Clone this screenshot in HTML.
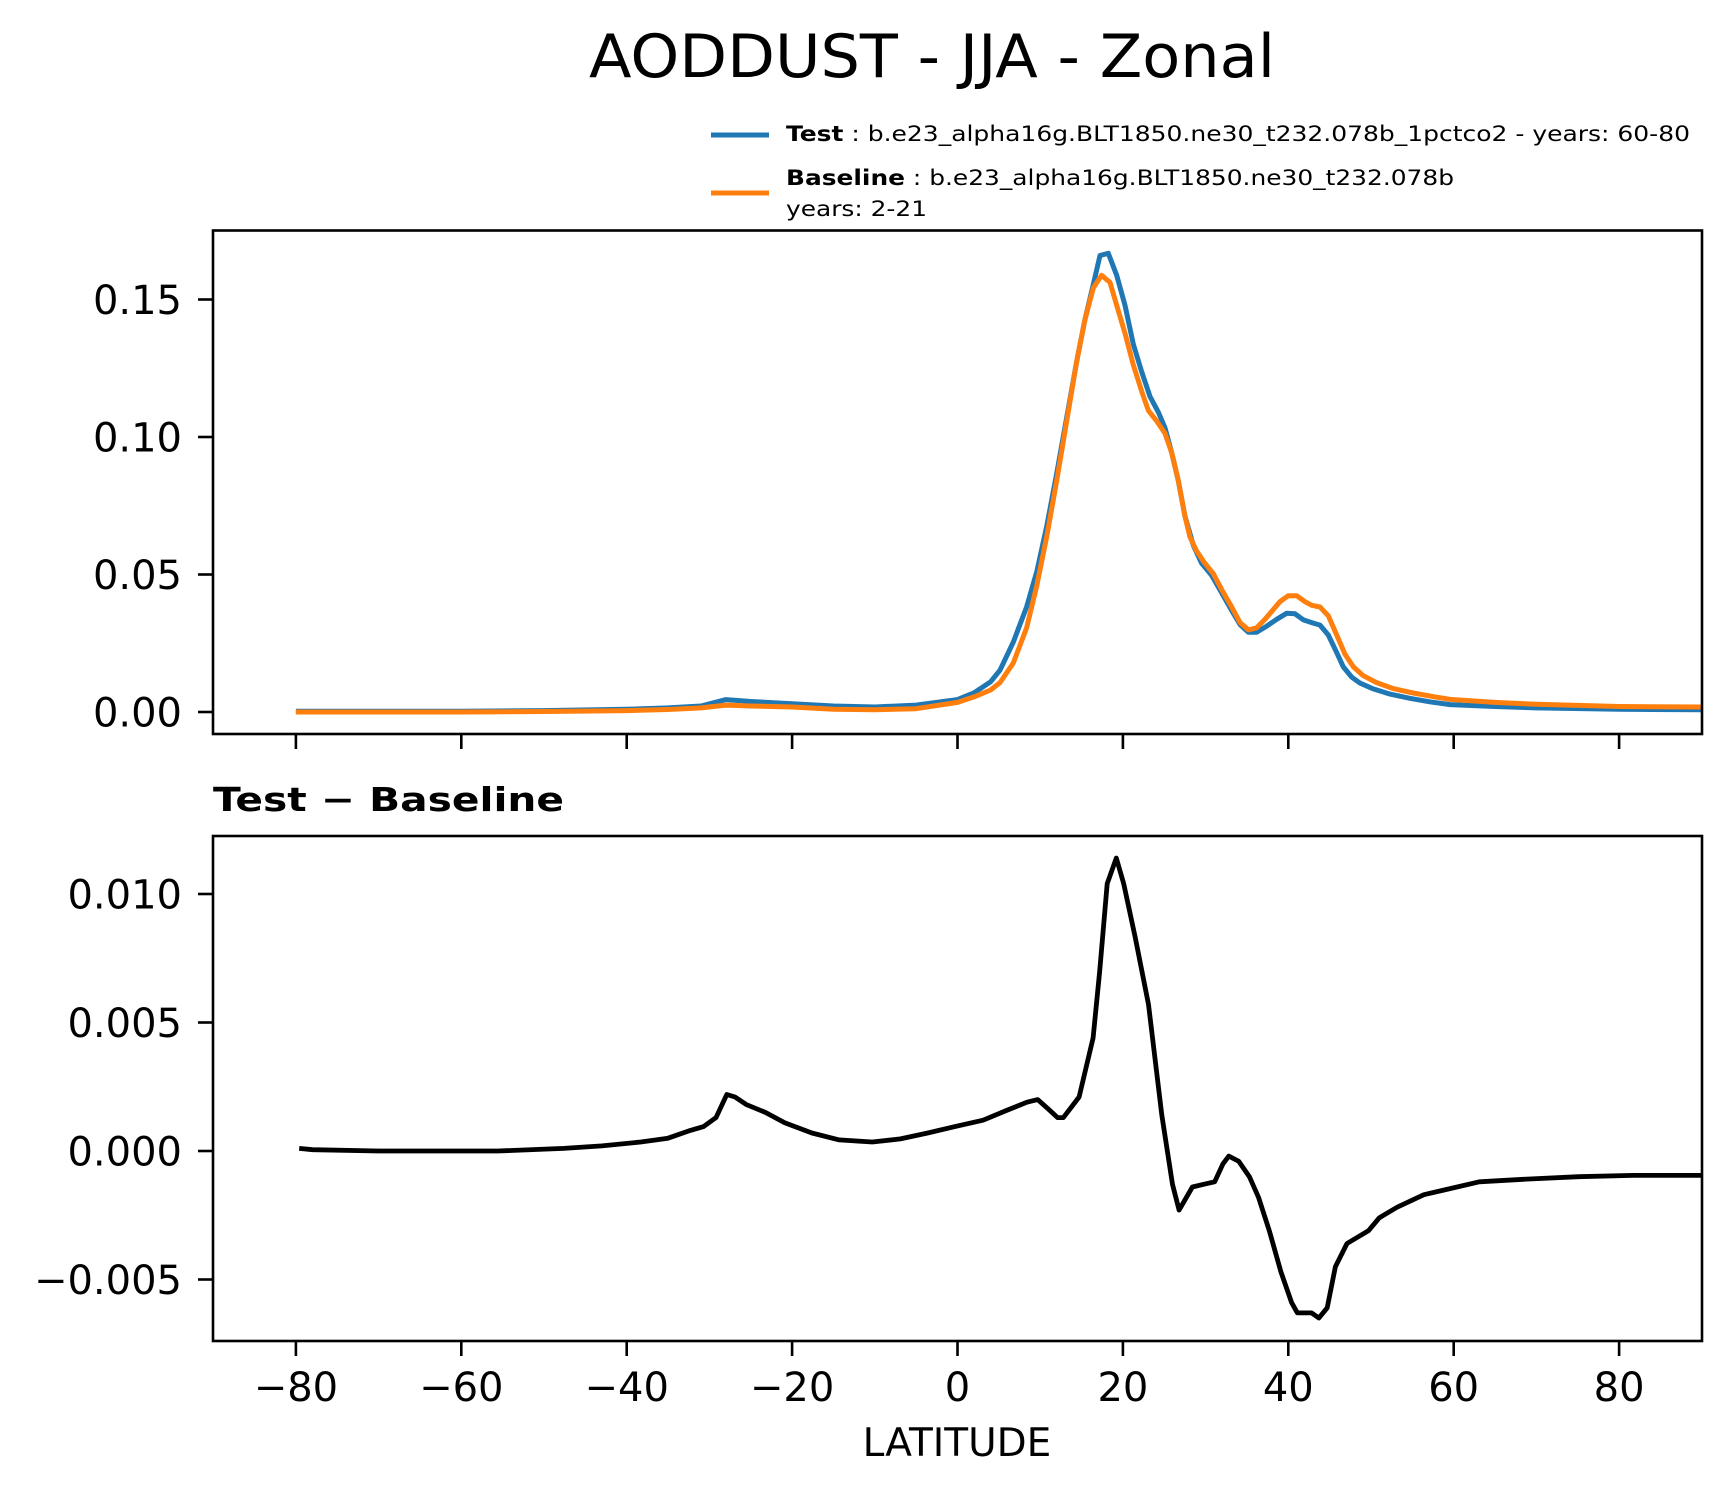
<!DOCTYPE html>
<html><head><meta charset="utf-8"><style>
html,body{margin:0;padding:0;background:#fff}
svg{display:block}
text{font-family:"DejaVu Sans","Liberation Sans",sans-serif;fill:#000}
</style></head><body>
<svg id="chart" width="1731" height="1496" viewBox="0 0 1731 1496" xmlns="http://www.w3.org/2000/svg">
<rect width="1731" height="1496" fill="#fff"/>
<text x="932" y="77" font-size="60" text-anchor="middle" textLength="686" lengthAdjust="spacingAndGlyphs">AODDUST - JJA - Zonal</text>
<g>
<line x1="711" y1="135" x2="769" y2="135" stroke="#1f77b4" stroke-width="5"/>
<text x="786" y="141" font-size="21" textLength="904" lengthAdjust="spacingAndGlyphs"><tspan font-weight="bold">Test</tspan> : b.e23_alpha16g.BLT1850.ne30_t232.078b_1pctco2 - years: 60-80</text>
<line x1="711" y1="193" x2="769" y2="193" stroke="#ff7f0e" stroke-width="5"/>
<text x="786" y="185" font-size="21" textLength="668" lengthAdjust="spacingAndGlyphs"><tspan font-weight="bold">Baseline</tspan> : b.e23_alpha16g.BLT1850.ne30_t232.078b</text>
<text x="786" y="216" font-size="21" textLength="141" lengthAdjust="spacingAndGlyphs">years: 2-21</text>
</g>
<text x="213" y="811" font-size="33" font-weight="bold" textLength="351" lengthAdjust="spacingAndGlyphs">Test − Baseline</text>
<text x="957" y="1456" font-size="39" text-anchor="middle">LATITUDE</text>
<g id="layer"></g>
</svg>
<script>
// ---- data ----
const testLat = [-80,-70,-60,-50,-40,-35,-31,-28,-25,-20,-15,-10,-5,0,2,4,5.14,6.75,8.35,9.58,10.78,11.99,13.2,14.41,15.42,16.43,17.23,18.24,19.25,20.25,21.26,22.27,23.28,24.29,25.09,25.9,26.7,27.5,28.52,29.52,30.73,31.95,33.15,34.16,35.17,36.17,37.38,38.6,39.8,40.81,41.82,42.83,43.83,44.84,45.85,46.65,47.67,48.67,50.28,52.3,54.7,57.1,59.56,65,70,80,90];
const testVal = [0.0003,0.0003,0.0003,0.0005,0.001,0.0015,0.0022,0.0045,0.0038,0.003,0.0022,0.0018,0.0025,0.0045,0.007,0.011,0.0152,0.0254,0.0382,0.0509,0.0675,0.0867,0.1071,0.1275,0.1428,0.1556,0.166,0.1668,0.1588,0.1479,0.1338,0.1237,0.1147,0.109,0.1033,0.0943,0.0841,0.0713,0.0605,0.0541,0.0497,0.0433,0.0369,0.0318,0.029,0.029,0.0312,0.0337,0.0359,0.0357,0.0335,0.0325,0.0316,0.028,0.0216,0.0164,0.0127,0.0105,0.0084,0.0065,0.005,0.0037,0.0027,0.002,0.0015,0.001,0.0008];
const baseLat = [-80,-70,-60,-50,-40,-35,-31,-28,-25,-20,-15,-10,-5,0,2,4,5.14,6.75,8.35,9.58,10.78,11.99,13.2,14.41,15.42,16.43,17.43,18.44,19.25,20.25,21.26,22.27,23.08,24.09,25.09,25.9,26.7,27.5,28.1,28.9,29.73,30.93,31.95,33.15,34.16,35.17,36.17,37.18,38.99,40,41,42.02,42.83,43.83,44.84,45.85,46.86,47.87,49.07,50.68,52.7,55.1,57.5,59.56,65,70,80,90];
const baseVal = [0,0,0,0.0002,0.0005,0.0009,0.0015,0.0025,0.0022,0.0018,0.001,0.0008,0.0012,0.0035,0.0055,0.008,0.0107,0.0178,0.0306,0.0458,0.0637,0.0841,0.1058,0.1275,0.1428,0.1543,0.1588,0.1562,0.1479,0.1377,0.1262,0.1166,0.1096,0.1058,0.1013,0.0943,0.0841,0.0713,0.0637,0.0586,0.0548,0.0503,0.0445,0.0382,0.0325,0.0299,0.0306,0.0337,0.0401,0.0423,0.0423,0.0401,0.0388,0.0382,0.035,0.028,0.021,0.0164,0.0132,0.0107,0.0085,0.0069,0.0056,0.0046,0.0035,0.0028,0.002,0.0018];
const diffLat = [-79.6,-78,-70,-55.6,-47.6,-43,-38.3,-35,-32.3,-30.7,-29.2,-27.9,-26.9,-25.5,-23.2,-20.9,-17.6,-14.3,-10.3,-6.9,-3.6,-0.3,3.1,6.1,8.4,9.7,11.1,12.1,12.8,14.7,16.4,17.2,18.1,19.2,20.1,21.5,23.1,24.7,26,26.8,28.4,29.7,31.1,32.1,32.8,34,35.3,36.4,37.7,39.1,40.4,41.1,42.8,43.7,44.7,45.7,47.1,49.7,51,53.1,56.4,59.1,63.1,68.4,75.1,81.7,89.9];
const diffVal = [0.0001,0.00005,0,0,0.0001,0.0002,0.00035,0.0005,0.0008,0.00095,0.0013,0.0022,0.0021,0.0018,0.0015,0.0011,0.0007,0.00043,0.00035,0.00047,0.0007,0.00095,0.0012,0.0016,0.0019,0.002,0.0016,0.0013,0.0013,0.0021,0.0044,0.007,0.0104,0.0114,0.0104,0.0083,0.0057,0.0014,-0.0013,-0.0023,-0.0014,-0.0013,-0.0012,-0.0005,-0.0002,-0.0004,-0.001,-0.0018,-0.0031,-0.0047,-0.0059,-0.0063,-0.0063,-0.0065,-0.0061,-0.0045,-0.0036,-0.0031,-0.0026,-0.0022,-0.0017,-0.0015,-0.0012,-0.0011,-0.001,-0.00095,-0.00095];
const xTicks = [-80,-60,-40,-20,0,20,40,60,80];
const topYTicks = [0, 0.05, 0.10, 0.15];
const topYLabels = ["0.00","0.05","0.10","0.15"];
const botYTicks = [-0.005, 0, 0.005, 0.010];
const botYLabels = ["−0.005","0.000","0.005","0.010"];

// ---- axes ----
const L=213, R=1702;
const xs = lat => 957.5 + lat*8.27;
const yTop = v => 712 - 2750*v;
const yBot = v => 1151 - 25700*v;
const T={top:230.5,bottom:734}, B={top:836,bottom:1341};
const NS="http://www.w3.org/2000/svg";
const layer=document.getElementById('layer');
function mk(tag,attrs,parent){const e=document.createElementNS(NS,tag);for(const k in attrs)e.setAttribute(k,attrs[k]);(parent||layer).appendChild(e);return e;}

const defs=mk('defs',{});
const c1=mk('clipPath',{id:'clipTop'},defs); mk('rect',{x:L,y:T.top,width:R-L,height:T.bottom-T.top},c1);
const c2=mk('clipPath',{id:'clipBot'},defs); mk('rect',{x:L,y:B.top,width:R-L,height:B.bottom-B.top},c2);

function path(lats,vals,ys){return lats.map((l,i)=>(i?'L':'M')+xs(l).toFixed(1)+','+ys(vals[i]).toFixed(1)).join('');}

const g1=mk('g',{'clip-path':'url(#clipTop)'});


const pT=mk('path',{d:path(testLat,testVal,yTop),fill:'none',stroke:'#1f77b4','stroke-width':5,'stroke-linejoin':'round'},g1);


const pB=mk('path',{d:path(baseLat,baseVal,yTop),fill:'none',stroke:'#ff7f0e','stroke-width':5,'stroke-linejoin':'round'},g1);



const g2=mk('g',{'clip-path':'url(#clipBot)'});


const pD=mk('path',{d:path(diffLat,diffVal,yBot),fill:'none',stroke:'#000','stroke-width':4.8,'stroke-linejoin':'round'},g2);



const f1=mk('rect',{x:L,y:T.top,width:R-L,height:T.bottom-T.top,fill:'none',stroke:'#000','stroke-width':2.6});


const f2=mk('rect',{x:L,y:B.top,width:R-L,height:B.bottom-B.top,fill:'none',stroke:'#000','stroke-width':2.6});



xTicks.forEach(t=>{
  const x=xs(t);
  const a=mk('line',{x1:x,y1:T.bottom,x2:x,y2:T.bottom+15,stroke:'#000','stroke-width':2.6});
  
  
  const b=mk('line',{x1:x,y1:B.bottom,x2:x,y2:B.bottom+15,stroke:'#000','stroke-width':2.6});
  
  
  const tx=mk('text',{x:x,y:1401,'font-size':40,'text-anchor':'middle'});
  
  
  tx.textContent=(t<0?'−':'')+Math.abs(t);
});
topYTicks.forEach((v,i)=>{
  const y=yTop(v);
  const a=mk('line',{x1:L-15,y1:y,x2:L,y2:y,stroke:'#000','stroke-width':2.6});
  
  
  const tx=mk('text',{x:182,y:y+14.5,'font-size':40,'text-anchor':'end'});
  
  
  tx.textContent=topYLabels[i];
});
botYTicks.forEach((v,i)=>{
  const y=yBot(v);
  const a=mk('line',{x1:L-15,y1:y,x2:L,y2:y,stroke:'#000','stroke-width':2.6});
  
  
  const tx=mk('text',{x:182,y:y+14.5,'font-size':40,'text-anchor':'end'});
  
  
  tx.textContent=botYLabels[i];
});
</script>
</body></html>
